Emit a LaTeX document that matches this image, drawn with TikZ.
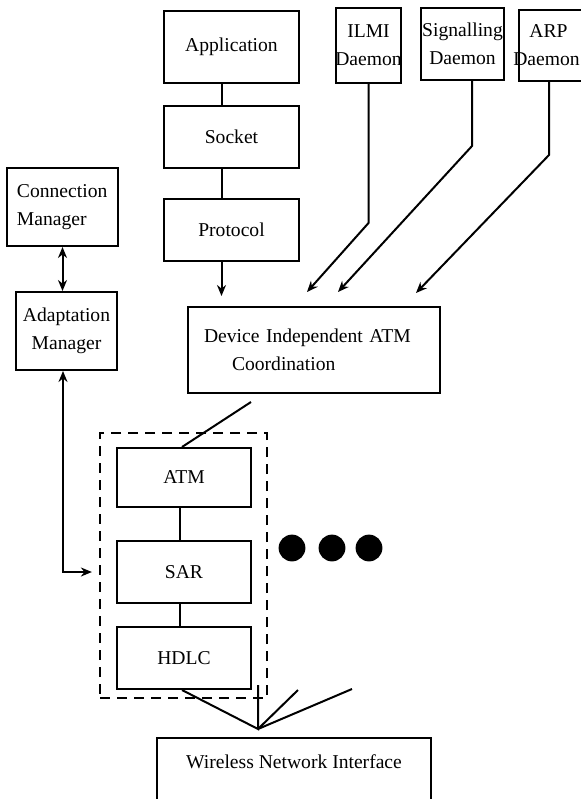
\documentclass[tikz,border=0pt]{standalone}
\usepackage{fontspec}
\setmainfont{Liberation Serif}
\usetikzlibrary{arrows.meta}
\newcommand{\ovr}[1]{\makebox[0pt]{#1}}
\begin{document}
\begin{tikzpicture}[x=0.5pt,y=-0.5pt,line width=1pt,>={Stealth[length=5.5pt,width=4.5pt]},
        blk/.style={draw,inner sep=2pt,align=center,font=\fontsize{9.8}{14}\selectfont},
        grp/.style={draw,line width=1.1pt,dash pattern=on 5pt off 3.5pt,minimum width=83.5pt,minimum height=132.5pt}]
            \useasboundingbox (0,0) rectangle (580,799);
            \node[blk,minimum width=67.5pt,minimum height=36pt] (app) at (231.5,47) {Application};
            \node[blk,minimum width=67.5pt,minimum height=31pt] (sock) at (231.5,137) {Socket};
            \node[blk,minimum width=67.5pt,minimum height=31pt] (prot) at (231.5,230) {Protocol};
            \node[blk,minimum width=32.5pt,minimum height=37.5pt] (ilmi) at (368.5,45.5) {\ovr{ILMI}\\\ovr{Daemon}};
            \node[blk,minimum width=41.5pt,minimum height=36pt] (sig) at (462.5,44) {\ovr{Signalling}\\\ovr{Daemon}};
            \node[blk,minimum width=32.5pt,minimum height=35.5pt] (arp) at (551.5,45.5) {\ovr{ARP\hspace*{3pt}}\\\ovr{Daemon\hspace*{5pt}}};
            \node[blk,minimum width=55.5pt,minimum height=39pt,text width=45.5pt,inner xsep=5pt,align=left] (conn) at (62.5,207) {Connection\\Manager};
            \node[blk,minimum width=50.5pt,minimum height=39pt] (adapt) at (66.5,331) {Adaptation\\Manager};
            \node[blk,minimum width=126pt,minimum height=43pt,text width=110pt,inner xsep=8pt,align=left] (diac) at (314,350) {Device Independent ATM\\\hspace*{14pt}Coordination};
            \node[grp] (stack) at (183.5,565.5) {};
            \node[blk,minimum width=67pt,minimum height=29.5pt] (atm) at (184,477.5) {ATM};
            \node[blk,minimum width=67pt,minimum height=31pt] (sar) at (184,572) {SAR};
            \node[blk,minimum width=67pt,minimum height=31pt] (hdlc) at (184,658) {HDLC};
            \node[blk,anchor=north,minimum width=137pt,text height=10pt,text depth=26pt,inner ysep=5pt] (wni) at (294,737) {Wireless Network Interface};
            \coordinate (inA) at (307,292);
            \coordinate (inB) at (338,292);
            \coordinate (inC) at (416,293);
            \coordinate (hub) at (258,729);
            \draw ([xshift=-5pt]app.south) -- ([xshift=-5pt]sock.north);
            \draw ([xshift=-5pt]sock.south) -- ([xshift=-5pt]prot.north);
            \draw[->,shorten >=5pt] ([xshift=-5pt]prot.south) -- ([xshift=-5pt]prot.south |- diac.north);
            \draw[->] (ilmi.south) -- ++(0,139) -- (inA);
            \draw[->] ([xshift=4.75pt]sig.south) -- ++(0,65) -- (inB);
            \draw[->] ([xshift=-1.25pt]arp.south) -- ++(0,73) -- (inC);
            \draw[<->] (conn.south) -- (conn.south |- adapt.north);
            \draw[<->,shorten >=3.5pt] ([xshift=-1.75pt]adapt.south) |- ([yshift=-3.25pt]stack.west);
            \draw ([xshift=32pt,yshift=-4pt]diac.south west) -- ([xshift=-1pt]atm.north);
            \draw ([xshift=-2pt]atm.south) -- ([xshift=-2pt]sar.north);
            \draw ([xshift=-2pt]sar.south) -- ([xshift=-2pt]hdlc.north);
            \draw ([xshift=-1pt]hdlc.south) -- (hub) -- ++(0,-44);
            \draw (hub) -- ++(40,-39);
            \draw (hub) -- ++(94,-40);
            \foreach \x in {292,332,369}
                \fill (\x,548) circle (6.7pt);
\end{tikzpicture}
\end{document}
